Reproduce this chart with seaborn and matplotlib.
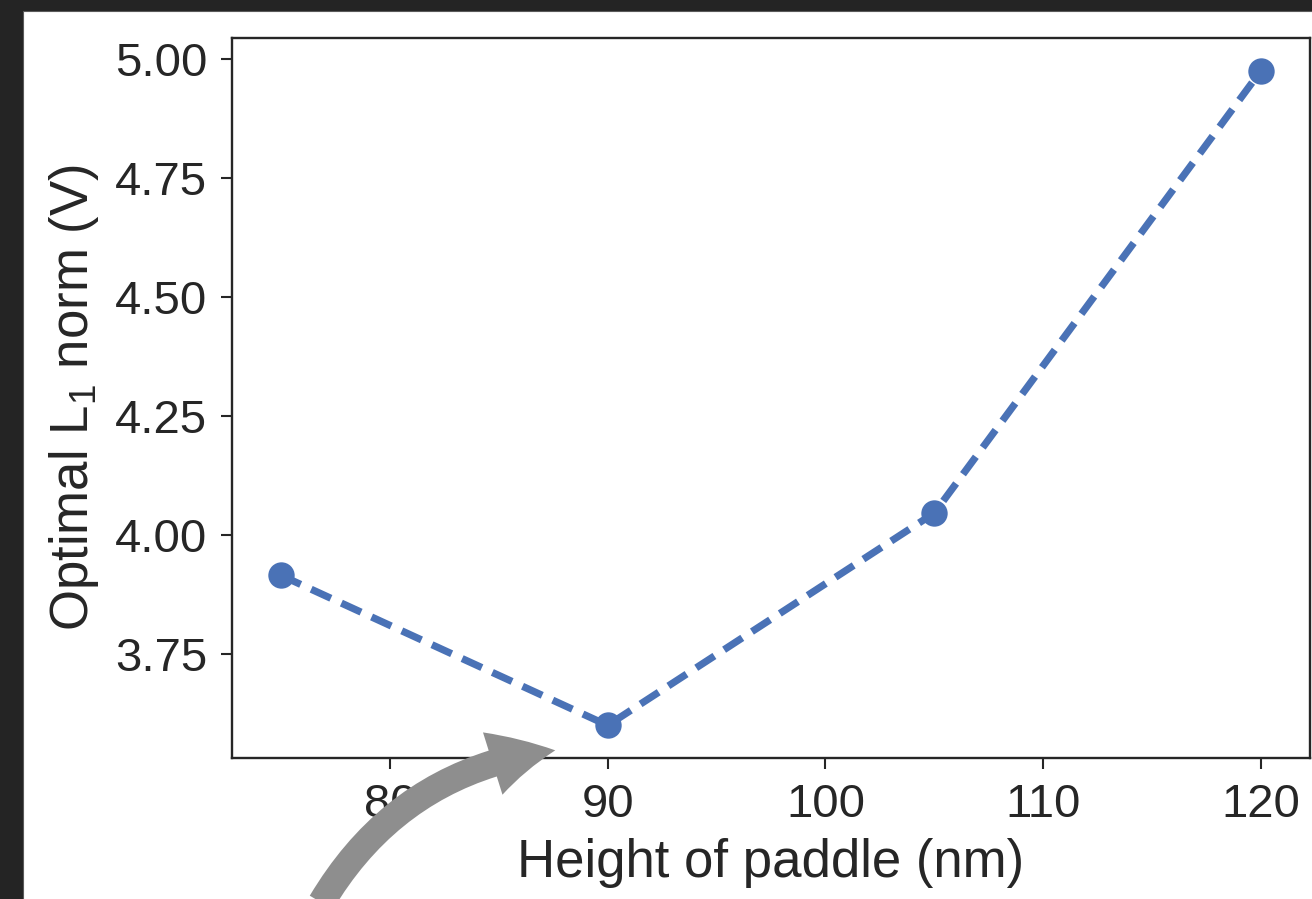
import matplotlib
matplotlib.use("Agg")
import matplotlib.pyplot as plt
from matplotlib.patches import Rectangle, FancyArrowPatch
from matplotlib.ticker import FormatStrFormatter
import seaborn as sns
import pandas as pd

# Paddle height sweep and the optimal L1 norm found at each height
heights_nm = [75, 90, 105, 120]
l1_norm_v = [3.915, 3.600, 4.046, 4.975]
y_ticks = [3.75, 4.00, 4.25, 4.50, 4.75, 5.00]
x_ticks = [80, 90, 100, 110, 120]

df = pd.DataFrame({"height": heights_nm, "l1": l1_norm_v})

sns.set_theme(style="ticks")
plt.rcParams["font.family"] = ["Liberation Sans", "DejaVu Sans"]
plt.rcParams["mathtext.fontset"] = "custom"
plt.rcParams["mathtext.rm"] = "Liberation Sans"
plt.rcParams["mathtext.it"] = "Liberation Sans"

W, H, DPI = 1312, 899, 100
fig = plt.figure(figsize=(W / DPI, H / DPI), dpi=DPI, facecolor="#242424")

# white panel behind the plot
fig.add_artist(Rectangle((22.5 / W, -0.01), 1, 1.01 - 10.5 / H,
                         transform=fig.transFigure, facecolor="white",
                         edgecolor="#5a5a5a", linewidth=0.8, zorder=-1))

ax = fig.add_axes([232 / W, 1 - 758 / H, (1310 - 232) / W, (758 - 38) / H])
ax.set_facecolor("white")

sns.lineplot(data=df, x="height", y="l1", ax=ax, color="#4a72b6",
             linewidth=5.2, marker="o", markersize=19, markeredgewidth=0)
line = ax.lines[0]
line.set_linestyle((0, (3.0, 1.6)))

ax.set_xticks(x_ticks)
ax.set_yticks(y_ticks)
ax.yaxis.set_major_formatter(FormatStrFormatter("%.2f"))
ax.set_xlim(72.75, 122.25)
ax.set_ylim(3.5315, 5.0435)

text_color = "#262626"
ax.tick_params(axis="both", labelsize=34, length=8, width=1.5,
               color=text_color, labelcolor=text_color, pad=10)
for sp in ax.spines.values():
    sp.set_linewidth(1.7)
    sp.set_color(text_color)

ax.set_xlabel("Height of paddle (nm)", fontsize=38, color=text_color, labelpad=8)
ax.set_ylabel(r"Optimal L$_1$ norm (V)", fontsize=38, color=text_color, labelpad=10)

# curved pointer toward the minimum
arrow = FancyArrowPatch((320 / W, -6 / H), (558 / W, 1 - 750 / H),
                        transform=fig.transFigure,
                        connectionstyle="arc3,rad=-0.25",
                        arrowstyle="simple,head_length=46,head_width=47,tail_width=19.5",
                        mutation_scale=1, color="#8e8e8e", linewidth=0,
                        zorder=5)
fig.add_artist(arrow)

fig.savefig("out.png", dpi=DPI, facecolor=fig.get_facecolor())
